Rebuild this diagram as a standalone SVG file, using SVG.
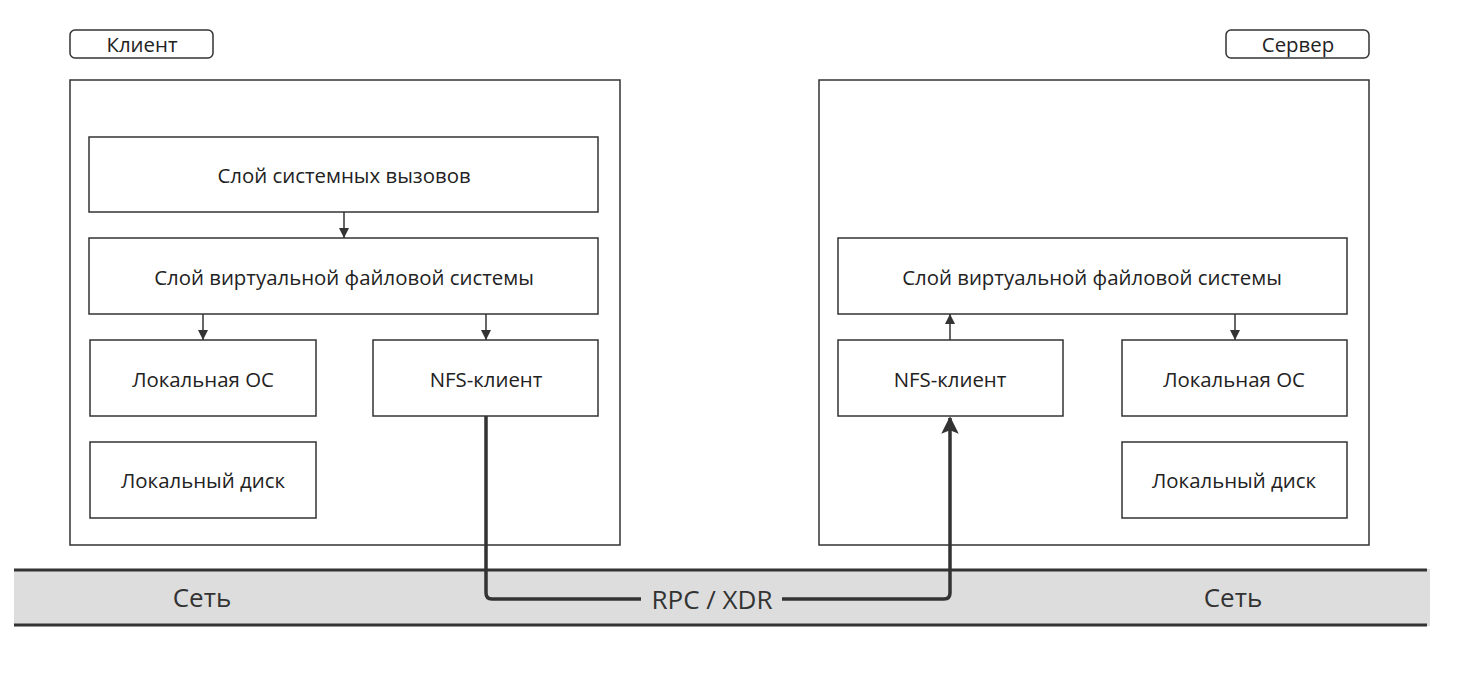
<svg xmlns="http://www.w3.org/2000/svg" width="1462" height="683" viewBox="0 0 1462 683">
<defs>
<style>
.box{fill:#fff;stroke:#333;stroke-width:1.5}
.t{font-family:"Open Sans","Noto Sans",sans-serif;font-size:20.4px;fill:#222;text-anchor:middle;dominant-baseline:central}
.big{font-family:"Open Sans","Noto Sans",sans-serif;font-size:26px;fill:#333;text-anchor:middle;dominant-baseline:central}
.thin{fill:none;stroke:#333;stroke-width:1.5}
.thick{fill:none;stroke:#333;stroke-width:3.5;stroke-linejoin:round}
</style>
<marker id="ah" viewBox="0 0 10 10" refX="10" refY="5" markerWidth="10" markerHeight="10" markerUnits="userSpaceOnUse" orient="auto"><path d="M0,0 L10,5 L0,10 z" fill="#333"/></marker>
<marker id="ahb" viewBox="0 0 10 10" refX="9" refY="5" markerWidth="5" markerHeight="5" orient="auto"><path d="M0,0 L10,5 L0,10 L2,5 z" fill="#333"/></marker>
</defs>
<g id="network">
<rect x="14" y="569" width="1416" height="57" fill="#dddddd"/>
<line x1="14" y1="570" x2="1427" y2="570" stroke="#333" stroke-width="3"/>
<line x1="14" y1="625" x2="1427" y2="625" stroke="#333" stroke-width="3"/>
<text class="big" x="202" y="597">Сеть</text>
<text class="big" x="1233" y="597">Сеть</text>
</g>
<g id="client-label"><rect class="box" x="70" y="30" width="143" height="28" rx="5"/><text class="t" x="142" y="44">Клиент</text></g>
<g id="server-label"><rect class="box" x="1226" y="30" width="143" height="28" rx="5"/><text class="t" x="1298" y="44">Сервер</text></g>
<g id="client"><rect class="box" x="70" y="80" width="550" height="465"/></g>
<g id="server"><rect class="box" x="819" y="80" width="550" height="465"/></g>
<g id="c-syscall"><rect class="box" x="89" y="137" width="509" height="75"/><text class="t" x="344" y="175">Слой системных вызовов</text></g>
<g id="c-vfs"><rect class="box" x="89" y="238" width="509" height="76"/><text class="t" x="344" y="277">Слой виртуальной файловой системы</text></g>
<g id="c-localos"><rect class="box" x="90" y="340" width="226" height="76"/><text class="t" x="203" y="379">Локальная ОС</text></g>
<g id="c-nfs"><rect class="box" x="373" y="340" width="225" height="76"/><text class="t" x="486" y="379">NFS-клиент</text></g>
<g id="c-disk"><rect class="box" x="90" y="442" width="226" height="76"/><text class="t" x="203" y="480">Локальный диск</text></g>
<g id="s-vfs"><rect class="box" x="838" y="238" width="509" height="76"/><text class="t" x="1092" y="277">Слой виртуальной файловой системы</text></g>
<g id="s-nfs"><rect class="box" x="838" y="340" width="225" height="76"/><text class="t" x="950" y="379">NFS-клиент</text></g>
<g id="s-localos"><rect class="box" x="1122" y="340" width="225" height="76"/><text class="t" x="1234" y="379">Локальная ОС</text></g>
<g id="s-disk"><rect class="box" x="1122" y="442" width="225" height="76"/><text class="t" x="1234" y="480">Локальный диск</text></g>
<g id="connectors">
<line class="thin" x1="344" y1="212" x2="344" y2="238" marker-end="url(#ah)"/>
<line class="thin" x1="203" y1="314" x2="203" y2="340" marker-end="url(#ah)"/>
<line class="thin" x1="486" y1="314" x2="486" y2="340" marker-end="url(#ah)"/>
<line class="thin" x1="950" y1="340" x2="950" y2="314" marker-end="url(#ah)"/>
<line class="thin" x1="1235" y1="314" x2="1235" y2="340" marker-end="url(#ah)"/>
<path class="thick" d="M486,416 V593 Q486,599 492,599 H641"/>
<path class="thick" d="M782,599 H944 Q950,599 950,593 V418" marker-end="url(#ahb)"/>
<text class="big" x="712" y="599">RPC / XDR</text>
</g>
</svg>
